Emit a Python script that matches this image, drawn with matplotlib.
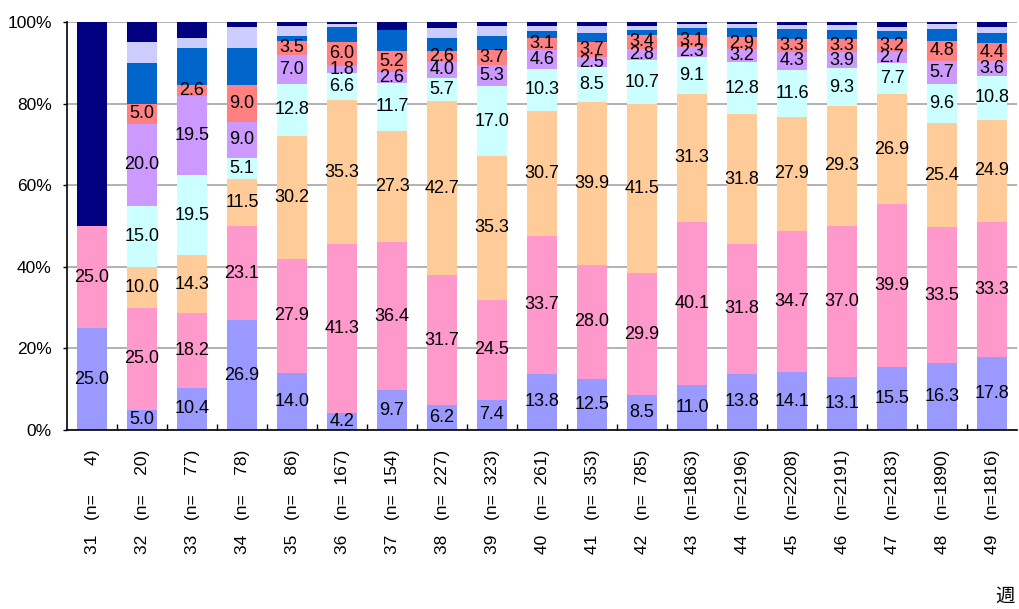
import numpy as np
import matplotlib
matplotlib.use("Agg")
import matplotlib.pyplot as plt

plt.rcParams['font.family'] = ['Liberation Sans', 'Noto Sans CJK JP', 'DejaVu Sans']

weeks = [31, 32, 33, 34, 35, 36, 37, 38, 39, 40, 41, 42, 43, 44, 45, 46, 47, 48, 49]
n_counts = [4, 20, 77, 78, 86, 167, 154, 227, 323, 261, 353, 785,
            1863, 2196, 2208, 2191, 2183, 1890, 1816]

# shares per week (%), bottom segment first
seg1 = [25.0, 5.0, 10.4, 26.9, 14.0, 4.2, 9.7, 6.2, 7.4, 13.8, 12.5, 8.5, 11.0, 13.8, 14.1, 13.1, 15.5, 16.3, 17.8]
seg2 = [25.0, 25.0, 18.2, 23.1, 27.9, 41.3, 36.4, 31.7, 24.5, 33.7, 28.0, 29.9, 40.1, 31.8, 34.7, 37.0, 39.9, 33.5, 33.3]
seg3 = [0.0, 10.0, 14.3, 11.5, 30.2, 35.3, 27.3, 42.7, 35.3, 30.7, 39.9, 41.5, 31.3, 31.8, 27.9, 29.3, 26.9, 25.4, 24.9]
seg4 = [0.0, 15.0, 19.5, 5.1, 12.8, 6.6, 11.7, 5.7, 17.0, 10.3, 8.5, 10.7, 9.1, 12.8, 11.6, 9.3, 7.7, 9.6, 10.8]
seg5 = [0.0, 20.0, 19.5, 9.0, 7.0, 1.8, 2.6, 4.0, 5.3, 4.6, 2.5, 2.8, 2.3, 3.2, 4.3, 3.9, 2.7, 5.7, 3.6]
seg6 = [0.0, 5.0, 2.6, 9.0, 3.5, 6.0, 5.2, 2.6, 3.7, 3.1, 3.7, 3.4, 3.1, 2.9, 3.3, 3.3, 3.2, 4.8, 4.4]
seg7 = [0.0, 10.0, 9.1, 9.0, 1.2, 3.6, 5.2, 3.1, 3.4, 1.5, 2.3, 1.2, 1.6, 2.3, 2.3, 2.2, 2.0, 3.1, 2.5]
seg8 = [0.0, 5.0, 2.6, 5.1, 2.3, 0.6, 0.0, 2.6, 2.5, 1.2, 1.5, 1.0, 1.0, 0.8, 1.1, 1.1, 0.9, 1.1, 1.5]
seg9 = [50.0, 5.0, 3.9, 1.3, 1.1, 0.6, 1.9, 1.3, 0.9, 1.1, 1.1, 1.0, 0.5, 0.6, 0.7, 0.8, 1.2, 0.5, 1.2]

segments = [seg1, seg2, seg3, seg4, seg5, seg6, seg7, seg8, seg9]
colors = ['#9999FF', '#FF99CC', '#FFCC99', '#CCFFFF', '#CC99FF',
          '#FF8080', '#0066CC', '#CCCCFF', '#000080']
labelled = 6  # only the first six series carry value labels

fig = plt.figure(figsize=(10.19, 6.09), dpi=100)
ax = fig.add_axes([67 / 1019, 179 / 609, 950 / 1019, 408 / 609])

x = np.arange(len(weeks))
bottom = np.zeros(len(weeks))
for i, (vals, col) in enumerate(zip(segments, colors)):
    vals = np.array(vals)
    ax.bar(x, vals, 0.6, bottom=bottom, color=col, edgecolor='none', zorder=2)
    if i < labelled:
        for xi, v, b in zip(x, vals, bottom):
            if v > 0:
                ax.text(xi, b + v / 2, f'{v:.1f}', ha='center', va='center',
                        fontsize=13, color='black', zorder=3)
    bottom += vals

ax.set_xlim(-0.5, len(weeks) - 0.5)
ax.set_ylim(0, 100)
ax.set_yticks(np.arange(0, 101, 20))
ax.set_yticklabels([f'{v}%' for v in range(0, 101, 20)], fontsize=12.5)
ax.yaxis.grid(True, color='#A6A6A6', linewidth=1.2, zorder=0)
ax.set_axisbelow(True)

ticklabels = []
for w, n in zip(weeks, n_counts):
    pad = '  ' * (4 - len(str(n)))
    ticklabels.append(f'{w}   (n={pad}{n})')
ax.set_xticks(x)
ax.set_xticklabels(ticklabels, rotation=90, va='top', ha='center', fontsize=12.5)
ax.tick_params(axis='x', which='major', length=0, pad=14)
ax.set_xticks(np.arange(0.5, len(weeks) - 1, 1), minor=True)
ax.tick_params(axis='x', which='minor', direction='in', length=4, width=1, color='black')
ax.tick_params(axis='y', direction='out', length=3, width=1, pad=8)

ax.spines['right'].set_visible(False)
ax.spines['top'].set_visible(False)
ax.spines['left'].set_linewidth(1.2)
ax.spines['bottom'].set_linewidth(1.2)

fig.text(1005 / 1019, 1 - 596 / 609, '週', ha='center', va='center', fontsize=14,
         family=['Noto Sans CJK JP', 'DejaVu Sans'])

fig.savefig('out.png', dpi=100)
